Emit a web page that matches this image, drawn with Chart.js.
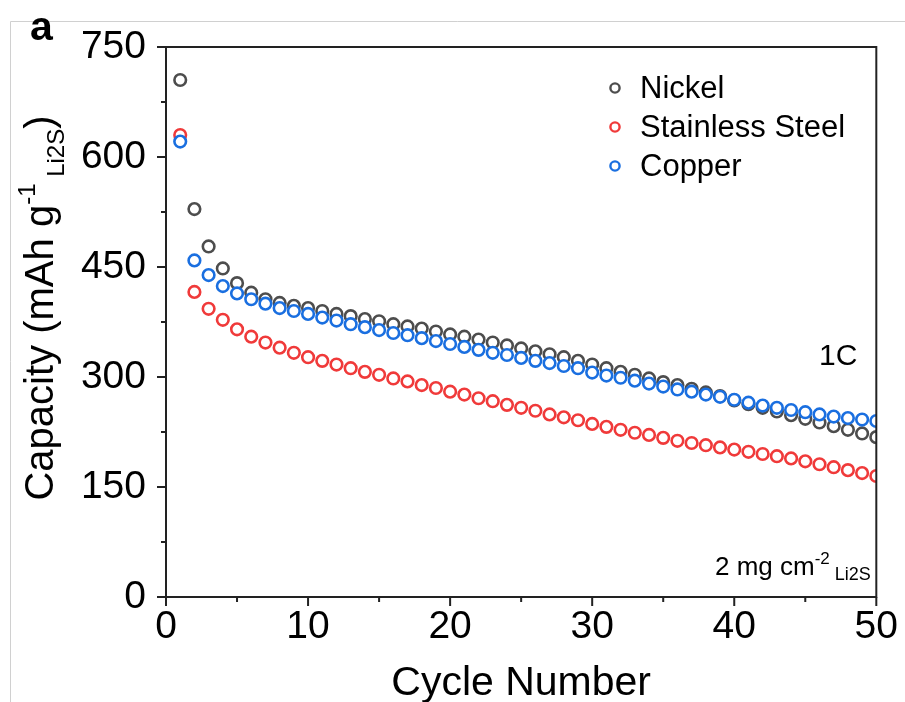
<!DOCTYPE html>
<html>
<head>
<meta charset="utf-8">
<title>Capacity vs cycle number</title>
<script src="https://cdn.jsdelivr.net/npm/chart.js@4.4.0/dist/chart.umd.min.js"></script>
<style>
  html, body { margin: 0; padding: 0; background: #fff; }
  #wrap { width: 905px; height: 702px; }
</style>
</head>
<body>
<div id="wrap"><canvas id="capacity-chart" width="905" height="702"></canvas></div>
<script>
// cycle numbers
const cycles = [1, 2, 3, 4, 5, 6, 7, 8, 9, 10,
  11, 12, 13, 14, 15, 16, 17, 18, 19, 20,
  21, 22, 23, 24, 25, 26, 27, 28, 29, 30,
  31, 32, 33, 34, 35, 36, 37, 38, 39, 40,
  41, 42, 43, 44, 45, 46, 47, 48, 49, 50];

// capacity values (mAh g-1 Li2S)
const nickel = [705, 529, 478, 448, 428, 415, 406, 401, 397, 394,
  390, 386, 383, 379, 376, 372, 369, 366, 362, 358,
  355, 351, 347, 343, 339, 335, 331, 327, 322, 317,
  312, 307, 303, 298, 293, 289, 284, 279, 274, 268,
  263, 258, 253, 248, 243, 238, 233, 228, 223, 218];

const stainless = [630, 416, 393, 378, 365, 355, 347, 340, 333, 327,
  322, 317, 312, 307, 303, 298, 294, 289, 285, 280,
  276, 271, 267, 262, 258, 254, 249, 245, 241, 236,
  232, 228, 224, 221, 217, 213, 210, 207, 204, 201,
  198, 195, 192, 189, 185, 181, 177, 173, 169, 165];

const copper = [621, 459, 439, 424, 414, 406, 400, 394, 390, 386,
  381, 377, 372, 368, 364, 360, 357, 353, 349, 345,
  341, 337, 333, 330, 326, 322, 319, 315, 312, 306,
  302, 299, 295, 291, 287, 283, 280, 276, 273, 269,
  265, 261, 258, 255, 252, 249, 246, 244, 242, 240];

const xTicks = [0, 10, 20, 30, 40, 50];
const xMinor = [5, 15, 25, 35, 45];
const yTicks = [0, 150, 300, 450, 600, 750];
const yMinor = [75, 225, 375, 525, 675];

const seriesNames = ['Nickel', 'Stainless Steel', 'Copper'];
const seriesColors = ['#4d4d4d', '#f03a3a', '#1a6fe0'];

const FONT = "'Liberation Sans', Arial, Helvetica, sans-serif";

function toPoints(ys) {
  return cycles.map((c, i) => ({ x: c, y: ys[i] }));
}

// draw a line of text made of pieces with their own size / baseline shift
function drawRich(ctx, parts, x, y, align) {
  let total = 0;
  parts.forEach(p => {
    ctx.font = (p.bold ? 'bold ' : '') + p.size + 'px ' + FONT;
    p.w = ctx.measureText(p.text).width;
    total += p.w;
  });
  let cx = align === 'center' ? x - total / 2 : (align === 'right' ? x - total : x);
  ctx.textAlign = 'left';
  ctx.textBaseline = 'alphabetic';
  parts.forEach(p => {
    ctx.font = (p.bold ? 'bold ' : '') + p.size + 'px ' + FONT;
    ctx.fillText(p.text, cx, y + (p.dy || 0));
    cx += p.w;
  });
}

const decorations = {
  id: 'decorations',
  beforeDraw(chart) {
    const ctx = chart.ctx;
    ctx.save();
    ctx.fillStyle = '#fff';
    ctx.fillRect(0, 0, chart.width, chart.height);
    // thin frame of the figure panel
    ctx.strokeStyle = '#d0d0d0';
    ctx.lineWidth = 1;
    ctx.beginPath();
    ctx.moveTo(10.5, chart.height);
    ctx.lineTo(10.5, 21.5);
    ctx.lineTo(chart.width, 21.5);
    ctx.stroke();
    ctx.restore();
  },
  afterDraw(chart) {
    const ctx = chart.ctx;
    const a = chart.chartArea;
    const xs = chart.scales.x, ys = chart.scales.y;
    ctx.save();

    // axis box
    ctx.strokeStyle = '#222';
    ctx.lineWidth = 2;
    ctx.strokeRect(a.left, a.top, a.right - a.left, a.bottom - a.top);

    // major + minor ticks, outward on left and bottom
    ctx.beginPath();
    xTicks.forEach(v => { const px = xs.getPixelForValue(v); ctx.moveTo(px, a.bottom); ctx.lineTo(px, a.bottom + 9); });
    xMinor.forEach(v => { const px = xs.getPixelForValue(v); ctx.moveTo(px, a.bottom); ctx.lineTo(px, a.bottom + 5); });
    yTicks.forEach(v => { const py = ys.getPixelForValue(v); ctx.moveTo(a.left, py); ctx.lineTo(a.left - 9, py); });
    yMinor.forEach(v => { const py = ys.getPixelForValue(v); ctx.moveTo(a.left, py); ctx.lineTo(a.left - 5, py); });
    ctx.stroke();

    ctx.fillStyle = '#000';

    // x title
    drawRich(ctx, [{ text: 'Cycle Number', size: 41 }], (a.left + a.right) / 2, 695, 'center');

    // y title, rotated
    ctx.save();
    ctx.translate(53, (a.top + a.bottom) / 2 - 14);
    ctx.rotate(-Math.PI / 2);
    drawRich(ctx, [
      { text: 'Capacity (mAh g', size: 40 },
      { text: '-1', size: 24, dy: -18 },
      { text: ' Li2S', size: 24, dy: 11 },
      { text: ')', size: 40 }
    ], 0, 0, 'center');
    ctx.restore();

    // panel letter
    drawRich(ctx, [{ text: 'a', size: 41, bold: true }], 30, 40, 'left');

    // legend
    const rows = [88, 127, 166];
    seriesNames.forEach((name, i) => {
      ctx.beginPath();
      ctx.strokeStyle = seriesColors[i];
      ctx.lineWidth = 2.4;
      ctx.arc(615, rows[i], 4.6, 0, Math.PI * 2);
      ctx.stroke();
      ctx.fillStyle = '#000';
      drawRich(ctx, [{ text: name, size: 31 }], 640, rows[i] + 10, 'left');
    });

    // annotations
    drawRich(ctx, [{ text: '1C', size: 30 }], 819, 365, 'left');
    drawRich(ctx, [
      { text: '2 mg cm', size: 26 },
      { text: '-2', size: 17, dy: -11 },
      { text: ' Li2S', size: 18, dy: 5 }
    ], 715, 575, 'left');

    ctx.restore();
  }
};

function makeSet(idx, data, order) {
  return {
    label: seriesNames[idx],
    data: toPoints(data),
    order: order,
    showLine: false,
    pointStyle: 'circle',
    pointRadius: 5.8,
    pointHoverRadius: 5.8,
    pointBorderWidth: 2.6,
    borderColor: seriesColors[idx],
    backgroundColor: '#fff'
  };
}

const ctx = document.getElementById('capacity-chart').getContext('2d');
new Chart(ctx, {
  type: 'scatter',
  data: {
    datasets: [
      makeSet(0, nickel, 3),
      makeSet(1, stainless, 2),
      makeSet(2, copper, 1)
    ]
  },
  options: {
    responsive: false,
    animation: false,
    devicePixelRatio: 1,
    layout: { padding: { top: 47, right: 27, left: 0, bottom: 0 } },
    plugins: {
      legend: { display: false },
      tooltip: { enabled: false }
    },
    scales: {
      x: {
        type: 'linear',
        min: 0,
        max: 50,
        grid: { display: false, drawTicks: false },
        border: { display: false },
        afterFit: s => { s.height = 105; },
        afterBuildTicks: s => { s.ticks = xTicks.map(v => ({ value: v })); },
        ticks: {
          autoSkip: false,
          maxRotation: 0,
          padding: 7,
          color: '#000',
          font: { family: FONT, size: 39 }
        }
      },
      y: {
        type: 'linear',
        min: 0,
        max: 750,
        grid: { display: false, drawTicks: false },
        border: { display: false },
        afterFit: s => { s.width = 166; },
        afterBuildTicks: s => { s.ticks = yTicks.map(v => ({ value: v })); },
        ticks: {
          autoSkip: false,
          padding: 20,
          color: '#000',
          font: { family: FONT, size: 39 }
        }
      }
    }
  },
  plugins: [decorations]
});
</script>
</body>
</html>
